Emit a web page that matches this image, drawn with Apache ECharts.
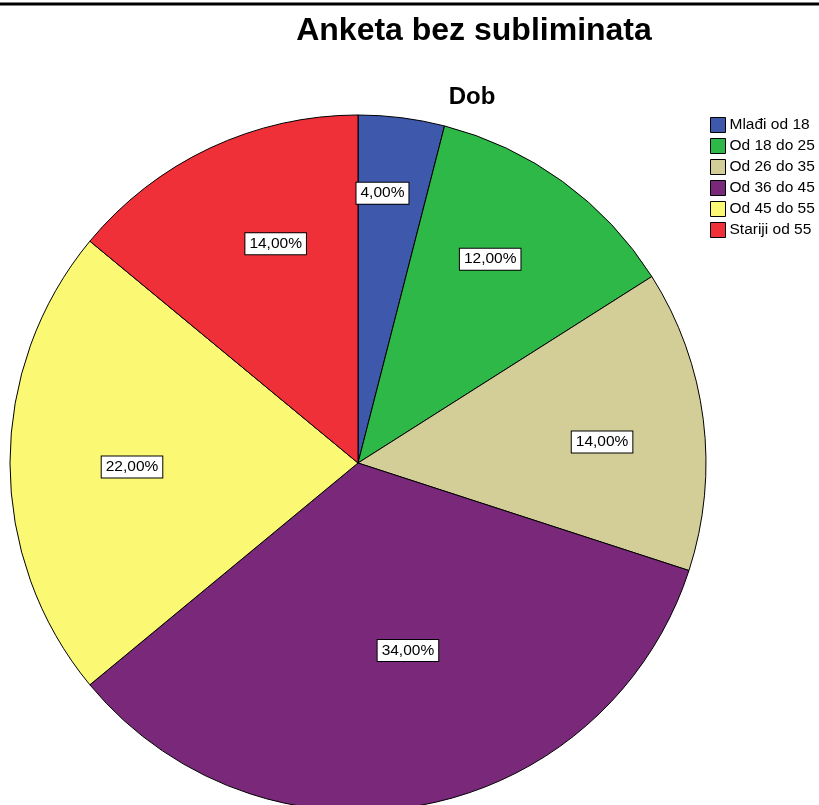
<!DOCTYPE html>
<html>
<head>
<meta charset="utf-8">
<script src="https://cdn.jsdelivr.net/npm/echarts@6/dist/echarts.min.js"></script>
<style>
html,body{margin:0;padding:0;background:#fff;}
#chart{width:819px;height:805px;}
</style>
</head>
<body>
<div id="chart"></div>
<script>
const categories = ['Mlađi od 18', 'Od 18 do 25', 'Od 26 do 35', 'Od 36 do 45', 'Od 45 do 55', 'Stariji od 55'];
const values = [4, 12, 14, 34, 22, 14];
const colors = ['#3e58ac', '#2eb848', '#d3ce97', '#7a287a', '#fbf873', '#ef3038'];
const titleText = 'Anketa bez subliminata';
const subTitleText = 'Dob';

// label placement style (distance of each label from pie centre, and small nudges)
const labelRadius = [272, 244, 244, 194, 227, 235];
const labelNudge = [[-10, 3], [-13, -4], [-1, 10], [13, -6], [4, 4], [19, -4]];

const FONT = '"Liberation Sans", Arial, sans-serif';
const CENTER = [358, 463];
const R = 348;
const fmt = p => p.value.toFixed(2).replace('.', ',') + '%';

const series = [{
  type: 'pie', center: CENTER, radius: R, startAngle: 90, clockwise: true,
  data: categories.map((c, i) => ({ name: c, value: values[i], itemStyle: { color: colors[i] } })),
  itemStyle: { borderColor: '#000', borderWidth: 1 },
  label: { show: false }, labelLine: { show: false },
  emphasis: { disabled: true }
}];

categories.forEach((cat, k) => {
  series.push({
    type: 'pie', center: CENTER, radius: [0, 2 * labelRadius[k]], startAngle: 90, clockwise: true,
    data: categories.map((c, i) => ({ name: c, value: values[i], label: { show: i === k } })),
    itemStyle: { color: 'rgba(0,0,0,0)', borderWidth: 0 },
    silent: true, emphasis: { disabled: true }, legendHoverLink: false, z: 5,
    label: {
      position: 'inside', formatter: fmt,
      fontFamily: FONT, fontSize: 15.5, color: '#000', lineHeight: 16,
      backgroundColor: '#fff', borderColor: '#000', borderWidth: 1, padding: [3, 4, 2, 4]
    },
    labelLine: { show: false },
    labelLayout: p => ({ dx: labelNudge[k][0], dy: labelNudge[k][1] })
  });
});

const chart = echarts.init(document.getElementById('chart'), null, { renderer: 'canvas' });
chart.setOption({
  animation: false,
  backgroundColor: '#fff',
  title: [
    { text: titleText, left: 469, top: 10, textAlign: 'center',
      textStyle: { fontFamily: FONT, fontSize: 32, fontWeight: 'bold', color: '#000' } },
    { text: subTitleText, left: 467, top: 80, textAlign: 'center',
      textStyle: { fontFamily: FONT, fontSize: 24, fontWeight: 'bold', color: '#000' } }
  ],
  legend: {
    orient: 'vertical', left: 705, top: 112,
    icon: 'rect', itemWidth: 15, itemHeight: 15, itemGap: 5,
    itemStyle: { borderColor: '#000', borderWidth: 1 },
    textStyle: { fontFamily: FONT, fontSize: 15.5, color: '#000', padding: [0, 0, 0, -1] },
    data: categories
  },
  graphic: [
    { type: 'line', shape: { x1: 0, y1: 4, x2: 819, y2: 4 }, style: { stroke: '#000', lineWidth: 3 }, silent: true }
  ],
  series: series
});
</script>
</body>
</html>
